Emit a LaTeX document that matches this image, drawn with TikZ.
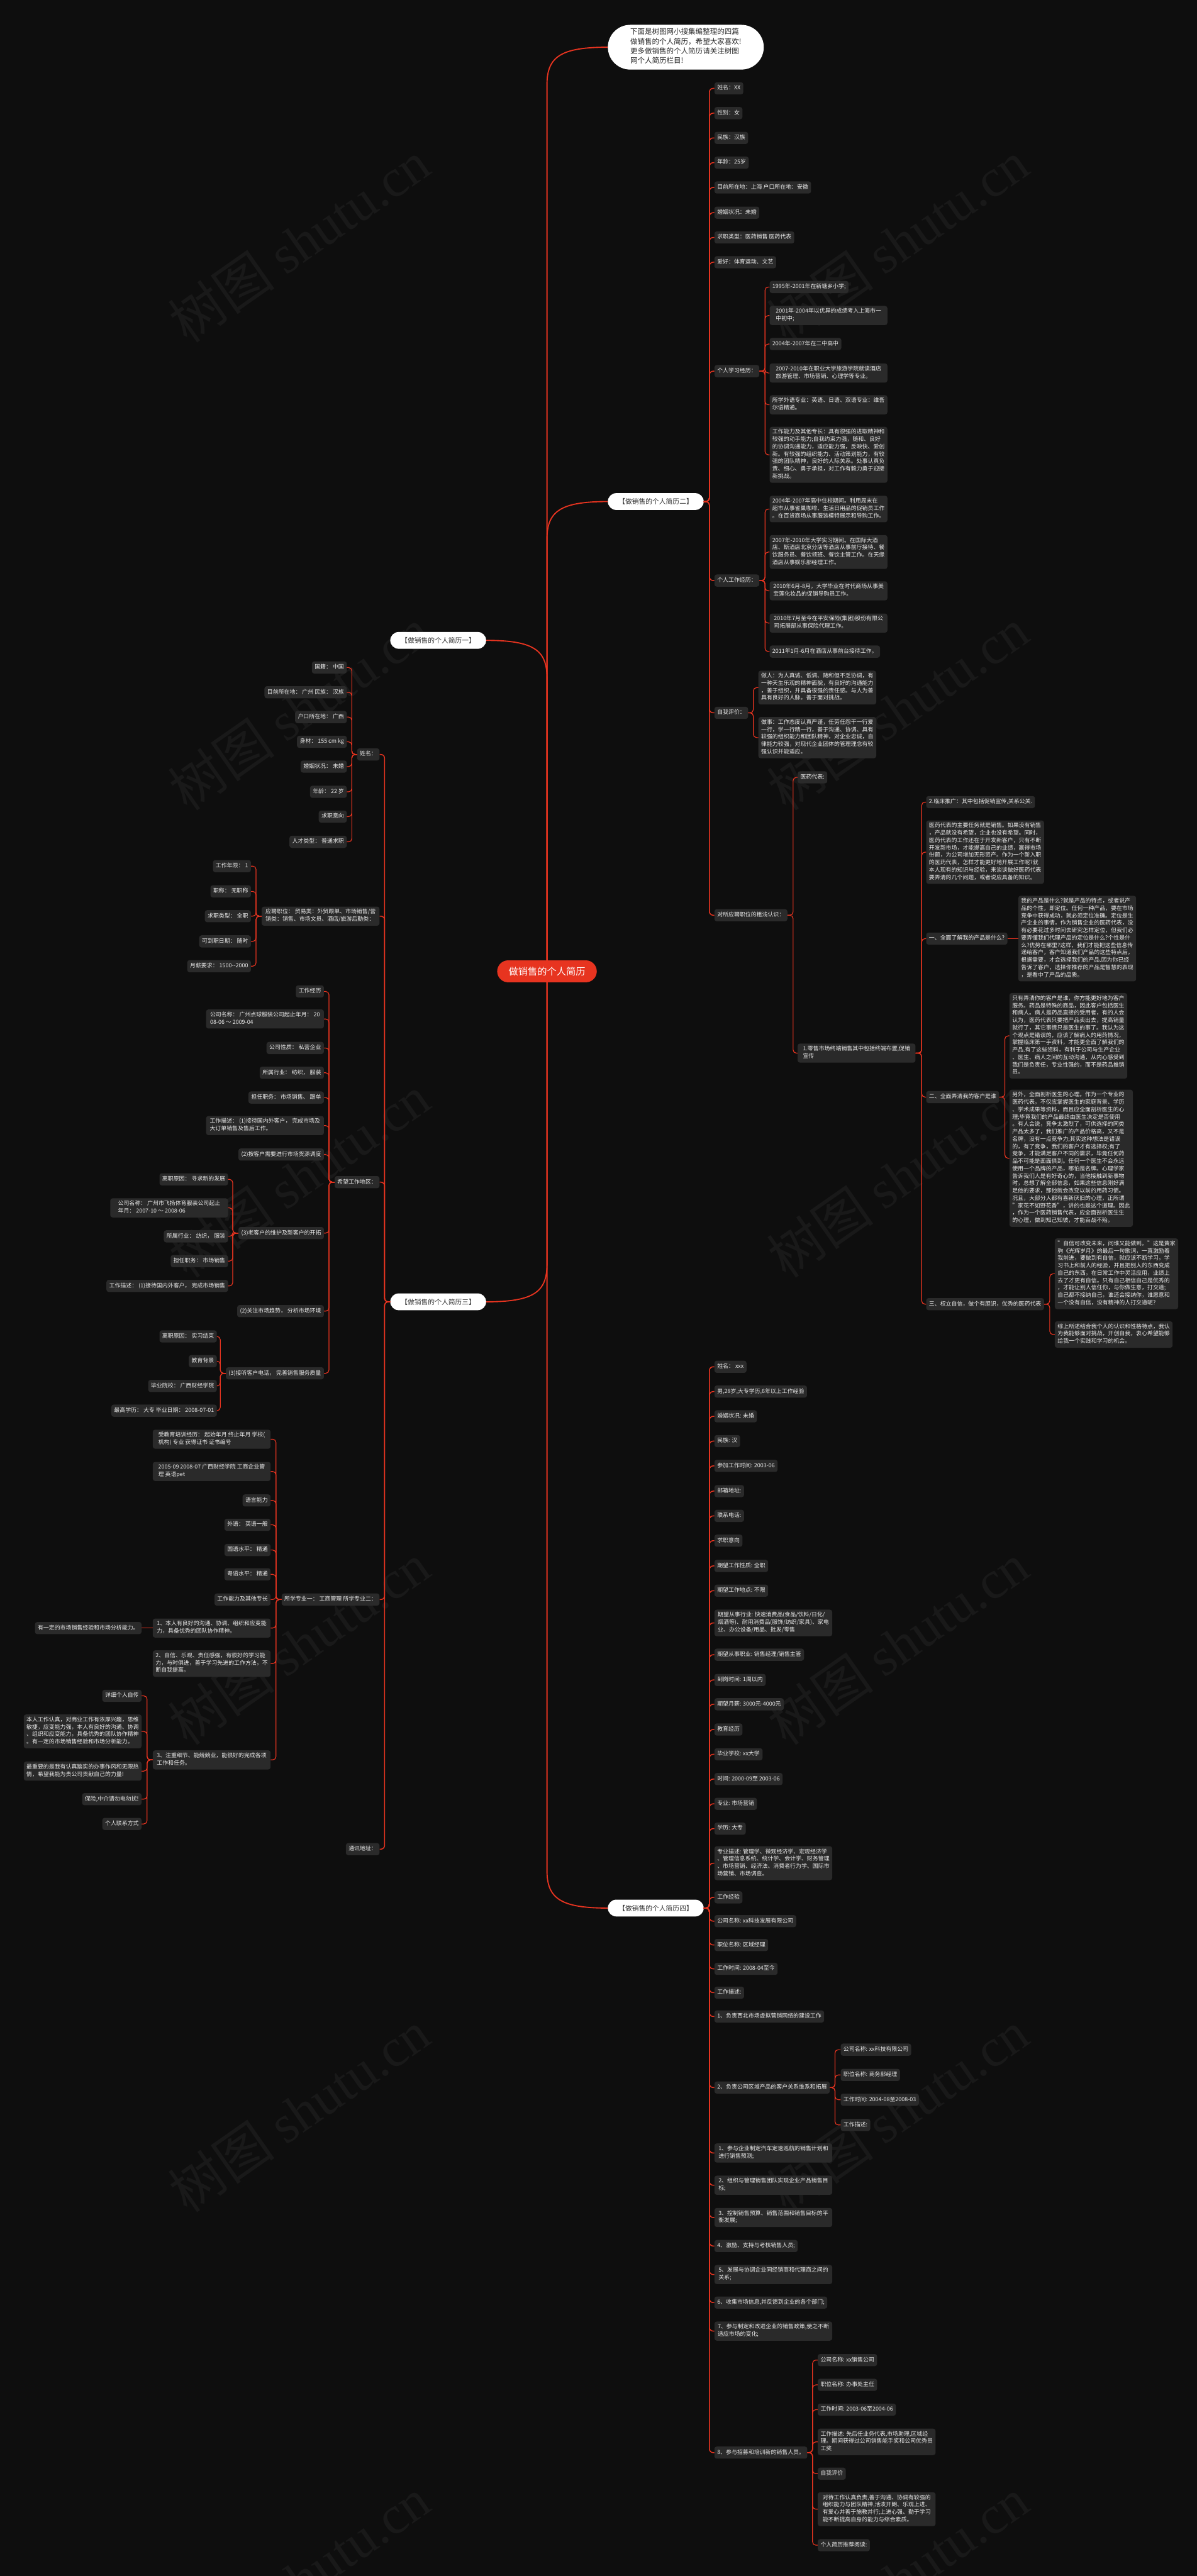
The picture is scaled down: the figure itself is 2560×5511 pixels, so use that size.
\documentclass[tikz,border=0pt]{standalone}
\usepackage{fontspec}
\setmainfont{Noto Sans CJK SC}
\newfontfamily\markfont{Liberation Serif}
\usepackage{tikz}
\usetikzlibrary{calc, positioning}
\definecolor{bgdark}{RGB}{14,14,14}
\definecolor{linered}{RGB}{231,52,32}
\definecolor{boxgray}{RGB}{42,42,42}
\definecolor{boxtext}{RGB}{236,236,236}
\definecolor{titletext}{RGB}{50,50,50}
\definecolor{wmgray}{RGB}{25,25,25}
\tikzset{
item/.style={rectangle, rounded corners=5pt, fill=boxgray, text=boxtext, font=\fontsize{12pt}{15.8pt}\selectfont, inner xsep=6pt, inner ysep=5.1pt, align=left, execute at begin node=\strut, execute at end node=\strut}, % one grey entry
para/.style={item, minimum width=252pt}, % entry with several lines
title/.style={rectangle, rounded corners=18pt, fill=white, text=titletext, font=\fontsize{14.5pt}{17pt}\selectfont, minimum width=205pt, minimum height=36pt, inner sep=0pt}, % white pill of a resume
root/.style={rectangle, rounded corners=23.5pt, fill=linered, text=white, font=\fontsize{20.5pt}{24pt}\selectfont, minimum width=213pt, minimum height=47pt, inner sep=0pt},
intro/.style={rectangle, rounded corners=48pt, fill=white, text=black!85, font=\fontsize{15.5pt}{20.5pt}\selectfont, align=left, inner xsep=48pt, inner ysep=7.5pt, execute at begin node=\strut, execute at end node=\strut},
wmark/.style={text=wmgray, font=\fontsize{115pt}{120pt}\selectfont, rotate=35}, % faint watermark
trunk/.style={draw=linered, line width=2.5pt},
branch/.style={draw=linered, line width=2pt, rounded corners=8pt},
twig/.style={draw=linered, line width=1.6pt, rounded corners=7pt},
}

\begin{document}
\begin{tikzpicture}[x=1pt, y=-1pt]
\useasboundingbox (0,0) rectangle (2560,5511);
\fill[bgdark] (0,0) rectangle (2560,5511);
% watermark
\foreach \wx in {640,1920}
  \foreach \wy in {517,1517,2517,3517,4517,5517}
    \node[wmark] at (\wx,\wy) {树图 {\markfont shutu.cn}};

% center and the five children
\node[root] (ctr) at (1170,2078) {做销售的个人简历};
\node[intro, anchor=west] (intro) at (1300,101) {下面是树图网小搜集编整理的四篇\\做销售的个人简历，希望大家喜欢!\\更多做销售的个人简历请关注树图\\网个人简历栏目!};
\node[title, anchor=west] (cv2) at (1300,1073) {【做销售的个人简历二】};
\node[title, anchor=east] (cv1) at (1040,1370) {【做销售的个人简历一】};
\node[title, anchor=east] (cv3) at (1040,2785) {【做销售的个人简历三】};
\node[title, anchor=west] (cv4) at (1300,4082) {【做销售的个人简历四】};

\draw[trunk] (ctr.north) -- ($(ctr.north |- intro.west)+(0,80)$) .. controls +(0,-60) and +(-100,0) .. (intro.west); % to intro
\draw[trunk] (ctr.north) -- ($(ctr.north |- cv2.west)+(0,80)$) .. controls +(0,-60) and +(-100,0) .. (cv2.west); % to two
\draw[trunk] (ctr.north) -- ($(ctr.north |- cv1.east)+(0,80)$) .. controls +(0,-60) and +(100,0) .. (cv1.east); % to one
\draw[trunk] (ctr.south) -- ($(ctr.south |- cv3.east)+(0,-80)$) .. controls +(0,60) and +(100,0) .. (cv3.east); % to three
\draw[trunk] (ctr.south) -- ($(ctr.south |- cv4.west)+(0,-80)$) .. controls +(0,60) and +(-100,0) .. (cv4.west); % to four

% ---- resume two
\def\xa{1528}
\node[item, anchor=west] (b2name) at (\xa,189) {姓名：XX};
\node[item, anchor=west] (b2sex) at (\xa,242) {性别：女};
\node[item, anchor=west] (b2nation) at (\xa,295) {民族：汉族};
\node[item, anchor=west] (b2age) at (\xa,348) {年龄：25岁};
\node[item, anchor=west] (b2place) at (\xa,401) {目前所在地：上海 户口所在地：安徽};
\node[item, anchor=west] (b2marry) at (\xa,455) {婚姻状况：未婚};
\node[item, anchor=west] (b2job) at (\xa,508) {求职类型：医药销售 医药代表};
\node[item, anchor=west] (b2hobby) at (\xa,561) {爱好：体育运动、文艺};
\node[item, anchor=west] (b2study) at (\xa,794) {个人学习经历：};
\node[item, anchor=west] (b2work) at (\xa,1242) {个人工作经历：};
\node[item, anchor=west] (b2self) at (\xa,1525) {自我评价：};
\node[item, anchor=west] (b2view) at (\xa,1958) {对所应聘职位的粗浅认识：};
\foreach \c in {b2name,b2sex,b2nation,b2age,b2place,b2marry,b2job,b2hobby,b2study,b2work,b2self,b2view}
  \draw[branch] (cv2.east) -- ++(12,0) |- (\c.west);

\node[item, anchor=west] (st1) at (1646,614) {1995年-2001年在新塘乡小学;};
\node[para, anchor=west] (st2) at (1646,675) {2001年-2004年以优异的成绩考入上海市一\\中初中;};
\node[item, anchor=west] (st3) at (1646,736) {2004年-2007年在二中高中};
\node[para, anchor=west] (st4) at (1646,798) {2007-2010年在职业大学旅游学院就读酒店\\旅游管理、市场营销、心理学等专业。};
\node[para, anchor=west] (st5) at (1646,866) {所学外语专业：英语、日语、双语专业：维吾\\尔语精通。};
\node[para, anchor=west] (st6) at (1646,973) {工作能力及其他专长：具有很强的进取精神和\\较强的动手能力;自我约束力强，随和、良好\\的协调沟通能力，适应能力强，反映快、爱创\\新。有较强的组织能力、活动策划能力，有较\\强的团队精神，良好的人际关系。处事认真负\\责、细心、勇于承担，对工作有毅力勇于迎接\\新挑战。};
\foreach \c in {st1,st2,st3,st4,st5,st6}
  \draw[twig] (b2study.east) -- ++(12,0) |- (\c.west);

\node[para, anchor=west] (wk1) at (1646,1089) {2004年-2007年高中住校期间。利用周末在\\超市从事雀巢咖啡、生活日用品的促销员工作\\。在百货商场从事服装模特展示和导购工作。};
\node[para, anchor=west] (wk2) at (1646,1181) {2007年-2010年大学实习期间。在国际大酒\\店、斯酒店北京分店等酒店从事前厅接待、餐\\饮服务员、餐饮领班、餐饮主管工作。在天缘\\酒店从事娱乐部经理工作。};
\node[para, anchor=west] (wk3) at (1646,1264) {2010年6月-8月，大学毕业在时代商场从事美\\宝莲化妆品的促销导购员工作。};
\node[para, anchor=west] (wk4) at (1646,1333) {2010年7月至今在平安保险(集团)股份有限公\\司拓展部从事保险代理工作。};
\node[item, anchor=west] (wk5) at (1646,1394) {2011年1月-6月在酒店从事前台接待工作。};
\foreach \c in {wk1,wk2,wk3,wk4,wk5}
  \draw[twig] (b2work.east) -- ++(12,0) |- (\c.west);

\node[para, anchor=west] (sf1) at (1622,1471) {做人：为人真诚、低调、随和但不乏协调，有\\一种天生乐观的精神面貌，有良好的沟通能力\\，善于组织，并具备很强的责任感。与人为善\\具有良好的人脉。善于面对挑战。};
\node[para, anchor=west] (sf2) at (1622,1578) {做事：工作态度认真严谨，任劳任怨干一行爱\\一行，学一行精一行，善于沟通、协调、具有\\较强的组织能力和团队精神，对企业忠诚，自\\律能力较强，对现代企业团体的管理理念有较\\强认识并能适应。};
\foreach \c in {sf1,sf2}
  \draw[twig] (b2self.east) -- ++(11,0) |- (\c.west);

\node[item, anchor=west] (vw1) at (1706,1663) {医药代表:};
\node[para, anchor=west] (vw2) at (1706,2253) {1.零售市场终端销售其中包括终端布置,促销\\宣传};
\foreach \c in {vw1,vw2}
  \draw[twig] (b2view.east) -- ++(12,0) |- (\c.west);

\node[item, anchor=west] (rt1) at (1981,1716) {2.临床推广：其中包括促销宣传,关系公关.};
\node[para, anchor=west] (rt2) at (1981,1823) {医药代表的主要任务就是销售。如果没有销售\\，产品就没有希望，企业也没有希望。同时，\\医药代表的工作还在于开发新客户，只有不断\\开发新市场，才能提高自己的业绩，赢得市场\\份额，为公司增加无形资产。作为一个新入职\\的医药代表，怎样才能更好地开展工作呢?就\\本人现有的知识与经验，来谈谈做好医药代表\\要弄清的几个问题，或者说应具备的知识。};
\node[item, anchor=west] (rt3) at (1981,2008) {一、全面了解我的产品是什么?};
\node[item, anchor=west] (rt4) at (1981,2347) {二、全面弄清我的客户是谁};
\node[item, anchor=west] (rt5) at (1981,2790) {三、权立自信，做个有胆识，优秀的医药代表};
\foreach \c in {rt1,rt2,rt3,rt4,rt5}
  \draw[twig] (vw2.east) -- ++(13,0) |- (\c.west);

\node[para, anchor=west] (pd1) at (2178,2008) {我的产品是什么?就是产品的特点，或者说产\\品的个性，即定位。任何一种产品，要在市场\\竞争中获得成功，就必须定位准确。定位是生\\产企业的事情，作为销售企业的医药代表，没\\有必要花过多时间去研究怎样定位，但我们必\\要弄懂我们代理产品的定位是什么?个性是什\\么?优势在哪里?这样，我们才能把这些信息传\\递给客户，客户知道我们产品的这些特点后，\\根据需要，才会选择我们的产品.因为你已经\\告诉了客户，选择你推荐的产品是智慧的表现\\，是看中了产品的品质。};
\draw[twig] (rt3.east) -- (pd1.west);

\node[para, anchor=west] (cu1) at (2159,2216) {只有弄清你的客户是谁，你方能更好地为客户\\服务。药品是特殊的商品，因此客户包括医生\\和病人。病人是药品直接的受用者，有的人会\\认为，医药代表只要把产品卖出去，提高销量\\就行了，其它事情只是医生的事了。我认为这\\个观点是错误的，应该了解病人的用药情况，\\掌握临床第一手资料，才能更全面了解我们的\\产品.有了这些资料，有利于公司与生产企业\\、医生、病人之间的互动沟通，从内心感受到\\我们是负责任，专业性强的，而不是药品推销\\员。};
\node[para, anchor=west] (cu2) at (2159,2478) {另外，全面剖析医生的心理。作为一个专业的\\医药代表，不仅应掌握医生的家庭背景、学历\\、学术成果等资料，而且应全面剖析医生的心\\理;毕竟我们的产品最终由医生决定是否使用\\。有人会说，竞争太激烈了，可供选择的同类\\产品太多了，我们推广的产品价格高，又不是\\名牌，没有一点竞争力;其实这种想法是错误\\的，有了竞争，我们的客户才有选择权;有了\\竞争，才能满足客户不同的需求，毕竟任何药\\品不可能是面面俱到。任何一个医生不会永远\\使用一个品牌的产品，哪怕是名牌。心理学家\\告诉我们人是有好奇心的，当他接触到新事物\\时，总想了解全部信息，如果这些信息刚好满\\足他的要求，那他就会改变以前的用药习惯。\\况且，大部分人都有喜新厌旧的心理，正所谓\\"家花不如野花香"，讲的也是这个道理。因此\\，作为一个医药销售代表，应全面剖析医生生\\的心理，做到知己知彼，才能百战不殆。};
\foreach \c in {cu1,cu2}
  \draw[twig] (rt4.east) -- ++(12,0) |- (\c.west);

\node[para, anchor=west] (cf1) at (2256,2725) {"自信可改变未来，问谁又能做到。"这是黄家\\驹《光辉岁月》的最后一句歌词，一直激励着\\我前进，要做到有自信，就应该不断学习，学\\习书上和前人的经验，并且把别人的东西变成\\自己的东西，在日常工作中灵活应用，业绩上\\去了才更有自信。只有自己相信自己是优秀的\\，才能让别人信任你，与你做生意，打交道;\\自己都不接纳自己，谁还会接纳你，谁愿意和\\一个没有自信，没有精神的人打交道呢?};
\node[para, anchor=west] (cf2) at (2256,2855) {综上所述结合我个人的认识和性格特点，我认\\为我能够面对挑战，开创自我，衷心希望能够\\给我一个实践和学习的机会。};
\foreach \c in {cf1,cf2}
  \draw[twig] (rt5.east) -- ++(12,0) |- (\c.west);

% ---- resume three
\def\xb{812}
\node[item, anchor=east] (b3name) at (\xb,1614) {姓名：};
\node[para, anchor=east] (b3apply) at (\xb,1960) {应聘职位： 贸易类：外贸跟单、市场销售/营\\销类：销售、市场文员、酒店/旅游后勤类：};
\node[item, anchor=east] (b3area) at (\xb,2529) {希望工作地区：};
\node[item, anchor=east] (b3major) at (\xb,3422) {所学专业一： 工商管理 所学专业二：};
\node[item, anchor=east] (b3addr) at (\xb,3956) {通讯地址：};
\foreach \c in {b3name,b3apply,b3area,b3major,b3addr}
  \draw[branch] (cv3.west) -- ++(-12,0) |- (\c.east);

\node[item, anchor=east] (nm1) at (742,1428) {国籍： 中国};
\node[item, anchor=east] (nm2) at (742,1481) {目前所在地： 广州 民族： 汉族};
\node[item, anchor=east] (nm3) at (742,1534) {户口所在地： 广西};
\node[item, anchor=east] (nm4) at (742,1587) {身材： 155 cm kg};
\node[item, anchor=east] (nm5) at (742,1640) {婚姻状况： 未婚};
\node[item, anchor=east] (nm6) at (742,1694) {年龄： 22 岁};
\node[item, anchor=east] (nm7) at (742,1747) {求职意向};
\node[item, anchor=east] (nm8) at (742,1801) {人才类型： 普通求职};
\foreach \c in {nm1,nm2,nm3,nm4,nm5,nm6,nm7,nm8}
  \draw[twig] (b3name.west) -- ++(-11,0) |- (\c.east);

\node[item, anchor=east] (ap1) at (537,1853) {工作年限： 1};
\node[item, anchor=east] (ap2) at (537,1907) {职称： 无职称};
\node[item, anchor=east] (ap3) at (537,1960) {求职类型： 全职};
\node[item, anchor=east] (ap4) at (537,2014) {可到职日期： 随时};
\node[item, anchor=east] (ap5) at (537,2067) {月薪要求： 1500-{}-2000};
\foreach \c in {ap1,ap2,ap3,ap4,ap5}
  \draw[twig] (b3apply.west) -- ++(-12,0) |- (\c.east);

\node[item, anchor=east] (ar1) at (693,2121) {工作经历};
\node[para, anchor=east] (ar2) at (693,2180) {公司名称： 广州点球服装公司起止年月： 20\\08-06 ～ 2009-04};
\node[item, anchor=east] (ar3) at (693,2242) {公司性质： 私营企业};
\node[item, anchor=east] (ar4) at (693,2295) {所属行业： 纺织， 服装};
\node[item, anchor=east] (ar5) at (693,2348) {担任职务： 市场销售、 跟单};
\node[para, anchor=east] (ar6) at (693,2408) {工作描述： (1)接待国内外客户， 完成市场及\\大订单销售及售后工作。};
\node[item, anchor=east] (ar7) at (693,2470) {(2)按客户需要进行市场货源调度};
\node[item, anchor=east] (ar8) at (693,2638) {(3)老客户的维护及新客户的开拓};
\node[item, anchor=east] (ar9) at (693,2805) {(2)关注市场趋势， 分析市场环境};
\node[item, anchor=east] (ar10) at (693,2938) {(3)接听客户电话， 完善销售服务质量};
\foreach \c in {ar1,ar2,ar3,ar4,ar5,ar6,ar7,ar8,ar9,ar10}
  \draw[twig] (b3area.west) -- ++(-12,0) |- (\c.east);

\node[item, anchor=east] (ol1) at (488,2523) {离职原因： 寻求新的发展};
\node[para, anchor=east] (ol2) at (488,2584) {公司名称： 广州市飞扬体育服装公司起止\\年月： 2007-10 ～ 2008-06};
\node[item, anchor=east] (ol3) at (488,2645) {所属行业： 纺织， 服装};
\node[item, anchor=east] (ol4) at (488,2698) {担任职务： 市场销售};
\node[item, anchor=east] (ol5) at (488,2751) {工作描述： (1)接待国内外客户， 完成市场销售};
\foreach \c in {ol1,ol2,ol3,ol4,ol5}
  \draw[twig] (ar8.west) -- ++(-12,0) |- (\c.east);

\node[item, anchor=east] (ph1) at (464,2859) {离职原因： 实习结束};
\node[item, anchor=east] (ph2) at (464,2912) {教育背景};
\node[item, anchor=east] (ph3) at (464,2965) {毕业院校： 广西财经学院};
\node[item, anchor=east] (ph4) at (464,3018) {最高学历： 大专 毕业日期： 2008-07-01};
\foreach \c in {ph1,ph2,ph3,ph4}
  \draw[twig] (ar10.west) -- ++(-12,0) |- (\c.east);

\node[para, anchor=east] (mj1) at (579,3079) {受教育培训经历： 起始年月 终止年月 学校(\\机构) 专业 获得证书 证书编号};
\node[para, anchor=east] (mj2) at (579,3148) {2005-09 2008-07 广西财经学院 工商企业管\\理 英语pet};
\node[item, anchor=east] (mj3) at (579,3210) {语言能力};
\node[item, anchor=east] (mj4) at (579,3262) {外语： 英语一般};
\node[item, anchor=east] (mj5) at (579,3316) {国语水平： 精通};
\node[item, anchor=east] (mj6) at (579,3368) {粤语水平： 精通};
\node[item, anchor=east] (mj7) at (579,3422) {工作能力及其他专长};
\node[para, anchor=east] (mj8) at (579,3483) {1、本人有良好的沟通、协调、组织和应变能\\力，具备优秀的团队协作精神。};
\node[para, anchor=east] (mj9) at (579,3559) {2、自信、乐观、责任感强，有很好的学习能\\力，与时俱进，善于学习先进的工作方法，不\\断自我提高。};
\node[para, anchor=east] (mj10) at (579,3765) {3、注重细节、能兢兢业，能很好的完成各项\\工作和任务。};
\foreach \c in {mj1,mj2,mj3,mj4,mj5,mj6,mj7,mj8,mj9,mj10}
  \draw[twig] (b3major.west) -- ++(-12,0) |- (\c.east);

\node[item, anchor=east] (ab1) at (303,3483) {有一定的市场销售经验和市场分析能力。};
\draw[twig] (mj8.west) -- (ab1.east);

\node[item, anchor=east] (bio1) at (303,3628) {详细个人自传};
\node[para, anchor=east] (bio2) at (303,3704) {本人工作认真，对商业工作有浓厚兴趣，思维\\敏捷，应变能力强，本人有良好的沟通、协调\\、组织和应变能力，具备优秀的团队协作精神\\。有一定的市场销售经验和市场分析能力。};
\node[para, anchor=east] (bio3) at (303,3789) {最重要的是我有认真踏实的办事作风和无限热\\情，希望我能为贵公司贡献自己的力量!};
\node[item, anchor=east] (bio4) at (303,3849) {保险,中介请勿电勿扰!};
\node[item, anchor=east] (bio5) at (303,3902) {个人联系方式};
\foreach \c in {bio1,bio2,bio3,bio4,bio5}
  \draw[twig] (mj10.west) -- ++(-12,0) |- (\c.east);

% ---- resume four
\node[item, anchor=west] (d1) at (\xa,2924) {姓名： xxx};
\node[item, anchor=west] (d2) at (\xa,2977) {男,28岁,大专学历,6年以上工作经验};
\node[item, anchor=west] (d3) at (\xa,3030) {婚姻状况: 未婚};
\node[item, anchor=west] (d4) at (\xa,3083) {民族: 汉};
\node[item, anchor=west] (d5) at (\xa,3136) {参加工作时间: 2003-06};
\node[item, anchor=west] (d6) at (\xa,3190) {邮箱地址:};
\node[item, anchor=west] (d7) at (\xa,3243) {联系电话:};
\node[item, anchor=west] (d8) at (\xa,3296) {求职意向};
\node[item, anchor=west] (d9) at (\xa,3350) {期望工作性质: 全职};
\node[item, anchor=west] (d10) at (\xa,3403) {期望工作地点: 不限};
\node[para, anchor=west] (d11) at (\xa,3472) {期望从事行业: 快速消费品(食品/饮料/日化/\\烟酒等)、耐用消费品(服饰/纺织/家具)、家电\\业、办公设备/用品、批发/零售};
\node[item, anchor=west] (d12) at (\xa,3540) {期望从事职业: 销售经理/销售主管};
\node[item, anchor=west] (d13) at (\xa,3594) {到岗时间: 1周以内};
\node[item, anchor=west] (d14) at (\xa,3646) {期望月薪: 3000元-4000元};
\node[item, anchor=west] (d15) at (\xa,3700) {教育经历};
\node[item, anchor=west] (d16) at (\xa,3753) {毕业学校: xx大学};
\node[item, anchor=west] (d17) at (\xa,3806) {时间: 2000-09至 2003-06};
\node[item, anchor=west] (d18) at (\xa,3859) {专业: 市场营销};
\node[item, anchor=west] (d19) at (\xa,3912) {学历: 大专};
\node[para, anchor=west] (d20) at (\xa,3986) {专业描述: 管理学、微观经济学、宏观经济学\\、管理信息系统、统计学、会计学、财务管理\\、市场营销、经济法、消费者行为学、国际市\\场营销、市场调查。};
\node[item, anchor=west] (d21) at (\xa,4059) {工作经验};
\node[item, anchor=west] (d22) at (\xa,4110) {公司名称: xx科技发展有限公司};
\node[item, anchor=west] (d23) at (\xa,4161) {职位名称: 区域经理};
\node[item, anchor=west] (d24) at (\xa,4212) {工作时间: 2008-04至今};
\node[item, anchor=west] (d25) at (\xa,4263) {工作描述:};
\node[item, anchor=west] (d26) at (\xa,4314) {1、负责西北市场虚拟营销网络的建设工作};
\node[item, anchor=west] (d27) at (\xa,4466) {2、负责公司区域产品的客户关系维系和拓展};
\node[para, anchor=west] (d28) at (\xa,4606) {1、参与企业制定汽车定速巡航的销售计划和\\进行销售预测;};
\node[para, anchor=west] (d29) at (\xa,4675) {2、组织与管理销售团队实现企业产品销售目\\标;};
\node[para, anchor=west] (d30) at (\xa,4744) {3、控制销售预算、销售范围和销售目标的平\\衡发展;};
\node[item, anchor=west] (d31) at (\xa,4805) {4、激励、支持与考核销售人员;};
\node[para, anchor=west] (d32) at (\xa,4866) {5、发展与协调企业同经销商和代理商之间的\\关系;};
\node[item, anchor=west] (d33) at (\xa,4926) {6、收集市场信息,并反馈到企业的各个部门;};
\node[para, anchor=west] (d34) at (\xa,4987) {7、参与制定和改进企业的销售政策,使之不断\\适应市场的变化;};
\node[item, anchor=west] (d35) at (\xa,5247) {8、参与招募和培训新的销售人员。};
\foreach \c in {d1,d2,d3,d4,d5,d6,d7,d8,d9,d10,d11,d12,d13,d14,d15,d16,d17,d18,d19,d20,d21,d22,d23,d24,d25,d26,d27,d28,d29,d30,d31,d32,d33,d34,d35}
  \draw[branch] (cv4.east) -- ++(12,0) |- (\c.west);

\node[item, anchor=west] (rg1) at (1798,4385) {公司名称: xx科技有限公司};
\node[item, anchor=west] (rg2) at (1798,4439) {职位名称: 商务部经理};
\node[item, anchor=west] (rg3) at (1798,4492) {工作时间: 2004-08至2008-03};
\node[item, anchor=west] (rg4) at (1798,4546) {工作描述:};
\foreach \c in {rg1,rg2,rg3,rg4}
  \draw[twig] (d27.east) -- ++(11,0) |- (\c.west);

\node[item, anchor=west] (of1) at (1749,5049) {公司名称: xx销售公司};
\node[item, anchor=west] (of2) at (1749,5102) {职位名称: 办事处主任};
\node[item, anchor=west] (of3) at (1749,5155) {工作时间: 2003-06至2004-06};
\node[para, anchor=west] (of4) at (1749,5224) {工作描述: 先后任业务代表,市场助理,区域经\\理。期间获得过公司销售能手奖和公司优秀员\\工奖};
\node[item, anchor=west] (of5) at (1749,5292) {自我评价};
\node[para, anchor=west] (of6) at (1749,5368) {对待工作认真负责,善于沟通、协调有较强的\\组织能力与团队精神,活泼开朗、乐观上进、\\有爱心并善于施教并行;上进心强、勤于学习\\能不断提高自身的能力与综合素质。};
\node[item, anchor=west] (of7) at (1749,5445) {个人简历推荐阅读:};
\foreach \c in {of1,of2,of3,of4,of5,of6,of7}
  \draw[twig] (d35.east) -- ++(11,0) |- (\c.west);
\end{tikzpicture}
\end{document}
